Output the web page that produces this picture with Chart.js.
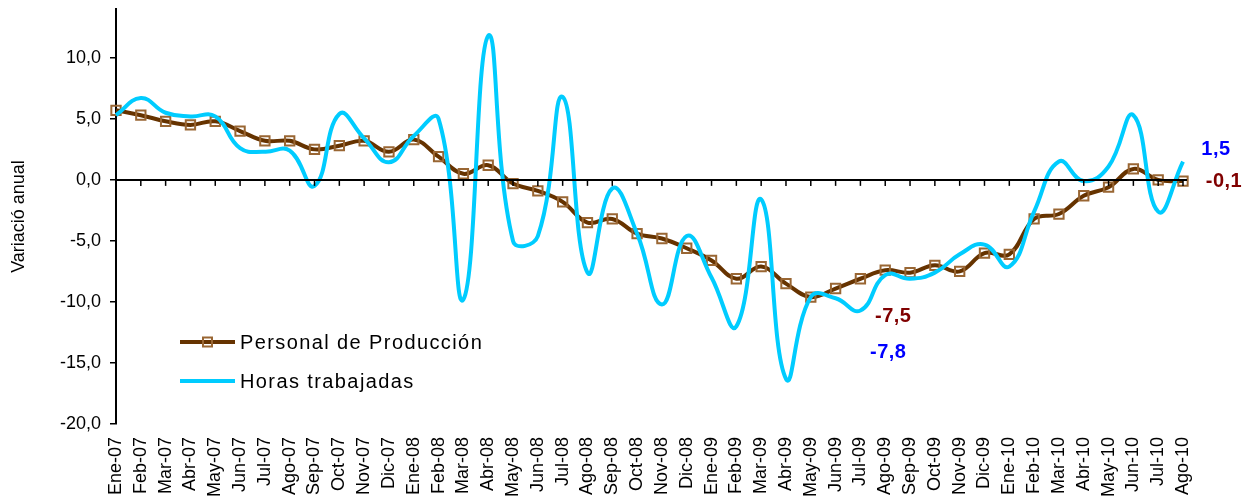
<!DOCTYPE html>
<html>
<head>
<meta charset="utf-8">
<script src="https://cdn.jsdelivr.net/npm/chart.js@4.4.0/dist/chart.umd.min.js"></script>
<style>
    body { margin: 0; background: #fff; }
    .chart-container { position: relative; width: 1250px; height: 497px; }
</style>
</head>
<body>
<div class="chart-container">
    <canvas id="empleoChart"></canvas>
</div>
<script>
// ------------------------------------------------------------
// Data
// ------------------------------------------------------------
const months = [
    'Ene-07', 'Feb-07', 'Mar-07', 'Abr-07', 'May-07', 'Jun-07', 'Jul-07', 'Ago-07', 'Sep-07', 'Oct-07', 'Nov-07', 'Dic-07',
    'Ene-08', 'Feb-08', 'Mar-08', 'Abr-08', 'May-08', 'Jun-08', 'Jul-08', 'Ago-08', 'Sep-08', 'Oct-08', 'Nov-08', 'Dic-08',
    'Ene-09', 'Feb-09', 'Mar-09', 'Abr-09', 'May-09', 'Jun-09', 'Jul-09', 'Ago-09', 'Sep-09', 'Oct-09', 'Nov-09', 'Dic-09',
    'Ene-10', 'Feb-10', 'Mar-10', 'Abr-10', 'May-10', 'Jun-10', 'Jul-10', 'Ago-10'
];

const personalProduccion = [
    5.7, 5.3, 4.8, 4.5, 4.8, 4.0, 3.2, 3.2, 2.5, 2.8, 3.2, 2.3,
    3.3, 1.9, 0.5, 1.2, -0.3, -0.9, -1.8, -3.5, -3.2, -4.4, -4.8, -5.6,
    -6.6, -8.1, -7.1, -8.5, -9.6, -8.9, -8.1, -7.4, -7.6, -7.0, -7.5, -6.0,
    -6.1, -3.2, -2.8, -1.3, -0.6, 0.9, 0.0, -0.1
];

const horasTrabajadas = [
    5.3, 6.7, 5.5, 5.2, 5.2, 2.6, 2.3, 2.4, -0.5, 5.4, 3.4, 1.45,
    3.6, 5.0, -9.8, 11.8, -5.0, -4.6, 6.8, -7.6, -0.7, -4.4, -10.2, -4.6,
    -8.0, -12.0, -1.6, -16.3, -9.6, -9.7, -10.7, -7.8, -8.1, -7.6, -6.1, -5.3,
    -7.1, -2.6, 1.5, -0.1, 1.1, 5.3, -2.6, 1.5
];

const seriesNames = ['Personal de Producción', 'Horas trabajadas'];

// Value callouts: [series, month index, value shown]
const callouts = [
    ['personal', 31, -7.5],
    ['horas', 31, -7.8],
    ['personal', 43, -0.1],
    ['horas', 43, 1.5],
];

const BROWN = '#663300';
const MARKER = '#996633';
const CYAN = '#00CCFF';
const FONT = "'Liberation Sans', Arial, sans-serif";

const fmt = v => v.toFixed(1).replace('.', ',');

// ------------------------------------------------------------
// Plugins: zero axis line, inner legend, value labels
// ------------------------------------------------------------
const zeroAxis = {
    id: 'zeroAxis',
    afterDatasetsDraw(chart) {
        const { ctx, chartArea, scales: { x, y } } = chart;
        const y0 = y.getPixelForValue(0);
        ctx.save();
        ctx.strokeStyle = '#000';
        ctx.lineWidth = 2;
        ctx.beginPath();
        ctx.moveTo(chartArea.left, y0);
        ctx.lineTo(chartArea.right + 4, y0);
        ctx.stroke();
        ctx.lineWidth = 1.5;
        months.forEach((m, i) => {
            const px = x.getPixelForValue(i);
            ctx.beginPath();
            ctx.moveTo(px, y0);
            ctx.lineTo(px, y0 + 6);
            ctx.stroke();
        });
        ctx.restore();
    }
};

const innerLegend = {
    id: 'innerLegend',
    afterDraw(chart) {
        const { ctx, chartArea } = chart;
        const x0 = chartArea.left + 64;
        const rows = [chartArea.top + 333, chartArea.top + 372];
        ctx.save();
        ctx.font = `20px ${FONT}`;
        ctx.letterSpacing = '1.4px';
        ctx.textBaseline = 'middle';
        ctx.fillStyle = '#000';
        // Personal de Producción
        ctx.strokeStyle = BROWN;
        ctx.lineWidth = 4;
        ctx.beginPath();
        ctx.moveTo(x0, rows[0]);
        ctx.lineTo(x0 + 55, rows[0]);
        ctx.stroke();
        ctx.strokeStyle = MARKER;
        ctx.lineWidth = 2;
        ctx.strokeRect(x0 + 23, rows[0] - 4.5, 9, 9);
        ctx.fillText(seriesNames[0], x0 + 60, rows[0] + 1);
        // Horas trabajadas
        ctx.strokeStyle = CYAN;
        ctx.lineWidth = 4;
        ctx.beginPath();
        ctx.moveTo(x0, rows[1]);
        ctx.lineTo(x0 + 55, rows[1]);
        ctx.stroke();
        ctx.fillText(seriesNames[1], x0 + 60, rows[1] + 1);
        ctx.restore();
    }
};

const valueLabels = {
    id: 'valueLabels',
    afterDraw(chart) {
        const { ctx, scales: { x, y } } = chart;
        // offsets [dx, dy] per callout, relative to the point
        const offsets = [[8, 45], [3, 77], [41, 0], [33, -12]];
        ctx.save();
        ctx.font = `bold 20px ${FONT}`;
        ctx.letterSpacing = '0.5px';
        ctx.textAlign = 'center';
        ctx.textBaseline = 'middle';
        callouts.forEach(([series, idx, val], k) => {
            ctx.fillStyle = series === 'horas' ? '#0000FF' : '#800000';
            const px = x.getPixelForValue(idx) + offsets[k][0];
            const py = y.getPixelForValue(val) + offsets[k][1];
            ctx.fillText(fmt(val), px, py);
        });
        ctx.restore();
    }
};

// ------------------------------------------------------------
// Chart
// ------------------------------------------------------------
const ctx = document.getElementById('empleoChart');
new Chart(ctx, {
    type: 'line',
    data: {
        labels: months,
        datasets: [
            {
                label: seriesNames[1],
                data: horasTrabajadas,
                borderColor: CYAN,
                borderWidth: 4,
                pointRadius: 0,
                tension: 0.45,
                fill: false,
                order: 0,
            },
            {
                label: seriesNames[0],
                data: personalProduccion,
                borderColor: BROWN,
                borderWidth: 4,
                tension: 0.4,
                pointStyle: 'rect',
                pointRadius: 6.6,
                pointBorderWidth: 2,
                pointBorderColor: MARKER,
                pointBackgroundColor: 'rgba(255,255,255,0)',
                fill: false,
                order: 1,
            }
        ]
    },
    options: {
        responsive: true,
        maintainAspectRatio: false,
        animation: false,
        layout: { padding: { top: 9, right: 67, bottom: 0, left: 0 } },
        plugins: {
            legend: { display: false },
            tooltip: { enabled: false },
        },
        scales: {
            x: {
                type: 'category',
                offset: false,
                border: { display: false },
                grid: { display: false, drawTicks: true, tickLength: 8 },
                ticks: {
                    autoSkip: false,
                    maxRotation: 90,
                    minRotation: 90,
                    padding: 5,
                    color: '#000',
                    font: { family: FONT, size: 18 },
                },
                afterFit: (scale) => {
                    scale.height = 73;
                    scale.paddingLeft = 0;
                    scale.paddingRight = 0;
                },
            },
            y: {
                min: -20,
                max: 14,
                border: { display: true, color: '#000', width: 2 },
                grid: { drawOnChartArea: false, drawTicks: true, tickLength: 6, color: '#000', lineWidth: 1.5 },
                ticks: {
                    stepSize: 5,
                    padding: 9,
                    color: '#000',
                    font: { family: FONT, size: 18 },
                    callback: (v) => fmt(v),
                },
                afterBuildTicks: (scale) => {
                    scale.ticks = scale.ticks.filter(t => t.value % 5 === 0);
                },
                title: {
                    display: true,
                    text: 'Variació anual',
                    color: '#000',
                    font: { family: FONT, size: 18 },
                    padding: { top: 8, bottom: 0 },
                },
                afterFit: (scale) => {
                    scale.width = 116;
                    scale.paddingTop = 0;
                    scale.paddingBottom = 0;
                },
            }
        }
    },
    plugins: [zeroAxis, innerLegend, valueLabels]
});
</script>
</body>
</html>
